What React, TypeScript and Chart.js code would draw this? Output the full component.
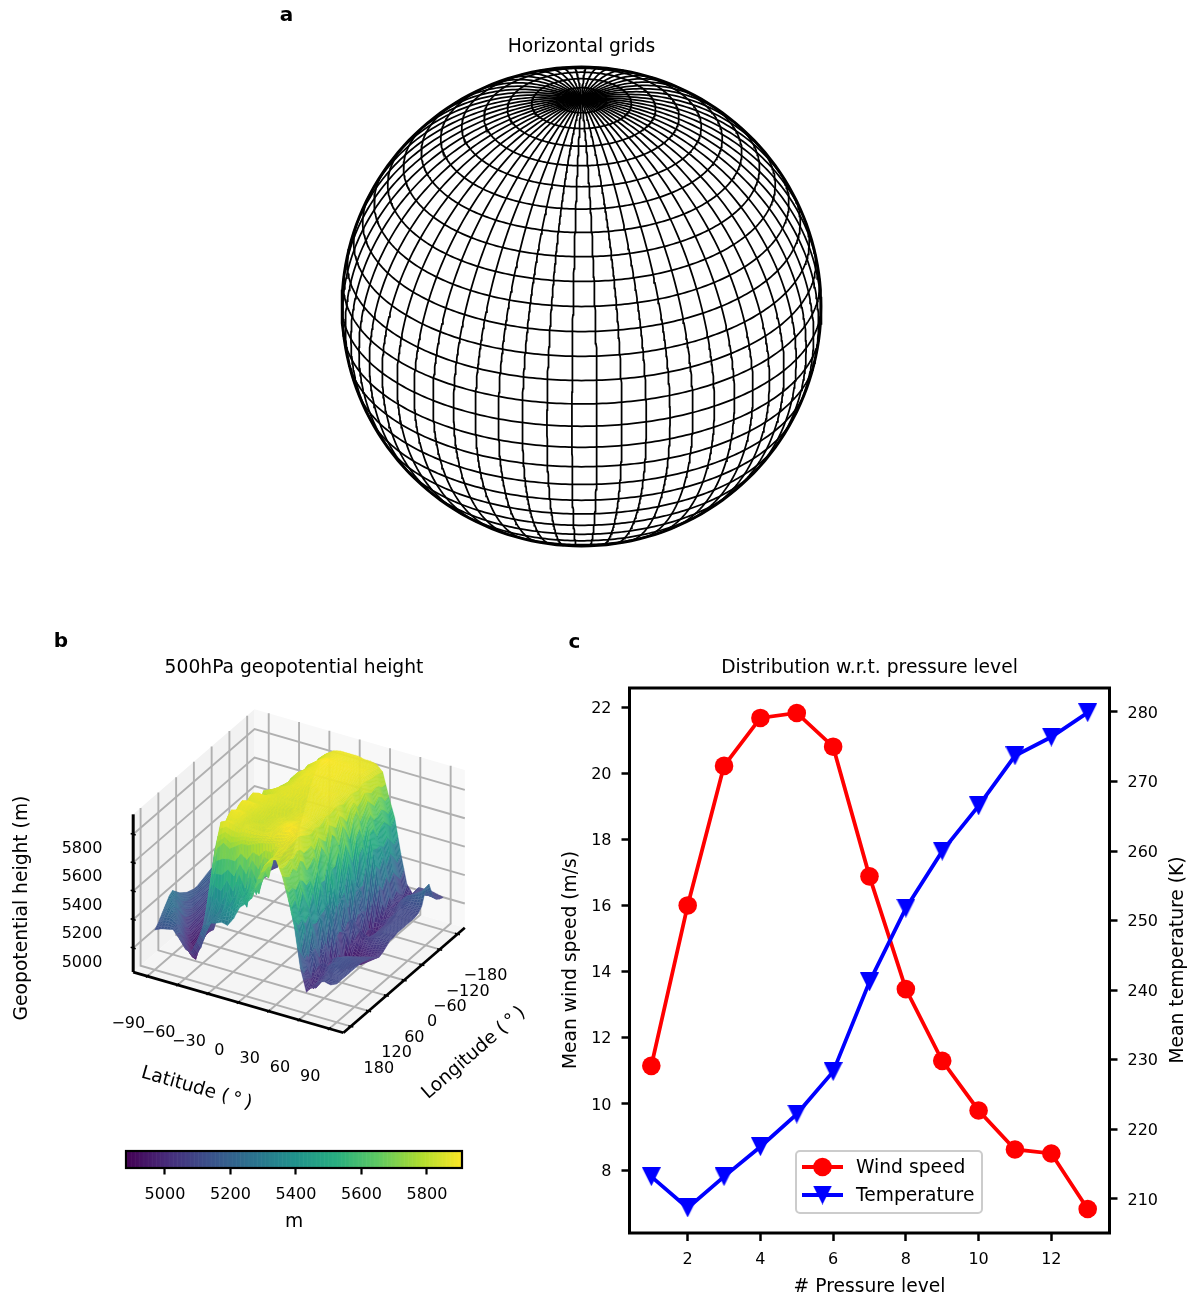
import React, { useEffect, useRef } from "react";
import { Chart, registerables } from "chart.js";

Chart.register(...registerables);

// ---------- panel c ----------
const pressureLevels = [1, 2, 3, 4, 5, 6, 7, 8, 9, 10, 11, 12, 13];
const windSpeed = [11.15, 16.0, 20.22, 21.67, 21.82, 20.8, 16.88, 13.47, 11.3, 9.8, 8.62, 8.5, 6.82];
const temperature = [213.2, 208.7, 213.2, 217.5, 222.2, 228.3, 241.2, 251.8, 260.0, 266.5, 273.7, 276.4, 279.9];
const levelTicks = [2, 4, 6, 8, 10, 12];
const windTicks = [8, 10, 12, 14, 16, 18, 20, 22];
const tempTicks = [210, 220, 230, 240, 250, 260, 270, 280];

// ---------- panel a ----------
const gridLats = [-84, -78, -72, -66, -60, -54, -48, -42, -36, -30, -24, -18, -12, -6, 0, 6, 12, 18, 24, 30, 36, 42, 48, 54, 60, 66, 72, 78, 84];
const gridLons = [-180, -174, -168, -162, -156, -150, -144, -138, -132, -126, -120, -114, -108, -102, -96, -90, -84, -78, -72, -66, -60, -54, -48, -42, -36, -30, -24, -18, -12, -6, 0, 6, 12, 18, 24, 30, 36, 42, 48, 54, 60, 66, 72, 78, 84, 90, 96, 102, 108, 114, 120, 126, 132, 138, 144, 150, 156, 162, 168, 174];

// ---------- panel b ----------
const latTicks = [-90, -60, -30, 0, 30, 60, 90];
const lonTicks = [-180, -120, -60, 0, 60, 120, 180];
const heightTicks = [5000, 5200, 5400, 5600, 5800];
const surfaceLats = [-90, -84, -78, -72, -66, -60, -54, -48, -42, -36, -30, -24, -18, -12, -6, 0, 6, 12, 18, 24, 30, 36, 42, 48, 54, 60, 66, 72, 78, 84, 90];
const surfaceLons = [180, 168, 156, 144, 132, 120, 108, 96, 84, 72, 60, 48, 36, 24, 12, 0, -12, -24, -36, -48, -60, -72, -84, -96, -108, -120, -132, -144, -156, -168, -180];
// geopotential height in decametres; one row per latitude, one column per longitude
const heightDam = [
  [511, 514, 518, 522, 526, 528, 525, 522, 520, 518, 517, 516, 516, 517, 518, 519, 520, 520, 519, 518, 517, 517, 518, 519, 520, 520, 521, 521, 520, 519, 518],
  [513, 519, 524, 527, 526, 522, 516, 512, 510, 509, 510, 511, 512, 513, 514, 515, 515, 515, 514, 513, 513, 513, 514, 515, 515, 516, 516, 515, 514, 514, 513],
  [514, 520, 522, 519, 512, 505, 502, 503, 504, 505, 506, 507, 508, 509, 510, 510, 510, 510, 510, 509, 509, 509, 510, 510, 511, 511, 511, 510, 510, 509, 509],
  [515, 517, 514, 506, 499, 495, 496, 498, 499, 501, 502, 503, 504, 505, 505, 505, 505, 505, 505, 504, 504, 504, 505, 505, 506, 506, 506, 505, 505, 504, 504],
  [510, 506, 500, 495, 491, 490, 492, 495, 497, 498, 500, 501, 502, 502, 502, 501, 501, 501, 501, 500, 500, 500, 501, 502, 502, 503, 502, 502, 501, 500, 500],
  [504, 500, 494, 490, 497, 505, 508, 503, 500, 506, 510, 504, 506, 512, 508, 505, 511, 514, 508, 505, 510, 512, 507, 505, 510, 508, 505, 509, 506, 504, 504],
  [503, 497, 500, 506, 520, 530, 525, 515, 528, 535, 522, 531, 540, 528, 530, 538, 532, 528, 536, 530, 526, 534, 528, 524, 530, 526, 522, 528, 524, 522, 521],
  [512, 505, 514, 522, 548, 565, 560, 568, 572, 562, 570, 575, 566, 568, 574, 565, 552, 568, 560, 550, 562, 556, 545, 556, 548, 540, 552, 546, 540, 540, 538],
  [524, 518, 530, 536, 570, 586, 582, 586, 588, 584, 587, 588, 584, 586, 587, 578, 572, 582, 578, 568, 575, 570, 565, 572, 568, 560, 566, 560, 556, 558, 556],
  [527, 528, 540, 532, 575, 588, 586, 588, 589, 587, 588, 589, 586, 587, 588, 583, 578, 584, 582, 578, 580, 578, 576, 579, 577, 572, 576, 572, 570, 572, 570],
  [528, 532, 526, 545, 572, 587, 586, 587, 588, 586, 587, 588, 586, 587, 587, 586, 584, 585, 585, 583, 583, 583, 582, 584, 583, 581, 583, 581, 579, 581, 579],
  [530, 536, 548, 535, 575, 585, 585, 585, 585, 585, 585, 586, 586, 586, 586, 586, 586, 586, 586, 585, 585, 585, 585, 586, 586, 585, 586, 585, 584, 585, 584],
  [529, 540, 535, 552, 578, 586, 586, 585, 584, 584, 585, 585, 585, 586, 586, 586, 587, 587, 587, 587, 587, 588, 588, 588, 588, 588, 589, 588, 587, 587, 587],
  [535, 545, 555, 540, 578, 586, 585, 585, 584, 584, 584, 585, 585, 585, 586, 586, 587, 587, 587, 588, 588, 588, 589, 589, 589, 590, 591, 589, 588, 588, 588],
  [544, 548, 540, 560, 580, 586, 585, 585, 585, 585, 585, 585, 585, 585, 586, 586, 586, 587, 587, 587, 588, 588, 589, 589, 589, 589, 590, 589, 589, 588, 588],
  [548, 553, 562, 548, 582, 586, 585, 586, 586, 586, 586, 585, 585, 585, 586, 586, 586, 587, 587, 587, 588, 588, 588, 589, 589, 589, 589, 589, 588, 588, 588],
  [553, 558, 552, 566, 583, 587, 587, 587, 587, 587, 586, 586, 586, 586, 586, 586, 587, 587, 587, 588, 588, 588, 588, 589, 589, 589, 589, 589, 588, 588, 588],
  [568, 566, 570, 562, 584, 587, 588, 589, 589, 588, 587, 587, 587, 586, 587, 587, 587, 587, 588, 588, 588, 588, 588, 588, 588, 588, 589, 588, 588, 587, 587],
  [578, 578, 576, 580, 586, 588, 590, 591, 590, 589, 588, 588, 587, 587, 587, 587, 587, 587, 588, 588, 587, 587, 587, 588, 588, 588, 588, 588, 587, 587, 587],
  [584, 583, 585, 586, 587, 589, 591, 591, 589, 588, 587, 587, 586, 586, 586, 586, 587, 587, 587, 587, 587, 587, 587, 587, 587, 587, 588, 588, 587, 587, 586],
  [585, 583, 585, 586, 586, 587, 588, 587, 585, 583, 582, 584, 582, 583, 586, 584, 585, 586, 585, 583, 585, 586, 585, 584, 586, 586, 585, 584, 584, 583, 582],
  [575, 572, 570, 574, 570, 575, 572, 564, 566, 570, 560, 572, 566, 558, 574, 570, 562, 574, 568, 560, 572, 576, 566, 570, 576, 572, 568, 572, 570, 565, 566],
  [560, 552, 556, 545, 558, 548, 540, 552, 534, 552, 538, 525, 556, 545, 530, 552, 535, 550, 538, 528, 548, 552, 540, 556, 558, 550, 554, 556, 552, 548, 552],
  [542, 535, 520, 535, 512, 530, 520, 505, 528, 512, 532, 518, 535, 510, 530, 515, 505, 530, 515, 525, 505, 528, 510, 535, 530, 538, 528, 535, 530, 524, 528],
  [514, 508, 510, 500, 516, 505, 498, 512, 502, 495, 515, 505, 492, 510, 500, 515, 508, 498, 512, 500, 490, 505, 498, 510, 502, 510, 505, 510, 505, 502, 508],
  [498, 502, 496, 505, 498, 508, 500, 493, 505, 496, 490, 492, 488, 497, 503, 495, 505, 499, 493, 501, 497, 503, 496, 501, 505, 500, 505, 498, 505, 500, 502],
  [503, 500, 505, 502, 508, 505, 510, 506, 503, 500, 496, 494, 492, 495, 500, 505, 503, 500, 500, 498, 502, 505, 500, 505, 508, 510, 508, 505, 507, 508, 508],
  [508, 506, 508, 510, 512, 511, 512, 510, 508, 505, 501, 497, 494, 498, 503, 506, 507, 507, 507, 507, 508, 509, 509, 510, 512, 514, 512, 510, 509, 509, 508],
  [509, 510, 510, 511, 512, 512, 512, 511, 509, 507, 504, 500, 497, 500, 505, 508, 509, 509, 509, 509, 509, 509, 510, 510, 512, 516, 515, 512, 510, 509, 508],
  [508, 510, 510, 511, 511, 511, 511, 510, 509, 508, 506, 503, 500, 502, 506, 508, 509, 509, 509, 509, 509, 509, 509, 510, 512, 518, 518, 513, 510, 508, 507],
  [510, 510, 510, 510, 510, 510, 510, 510, 509, 508, 507, 505, 503, 504, 506, 508, 508, 509, 509, 509, 509, 509, 509, 510, 513, 522, 524, 514, 509, 507, 506],
];
const viridisStops = ["#440154", "#472d7b", "#3b528b", "#2c728e", "#21918c", "#28ae80", "#5ec962", "#addc30", "#fde725"];
const colorRange = [4881, 5907];

// ---------- shared style ----------
const FONT = "'DejaVu Sans', sans-serif";
const TICK_SIZE = 16;
const LABEL_SIZE = 18.7;
const INK = "#000000";

function viridis(v: number) {
  const t = Math.max(0, Math.min(1, (v - colorRange[0]) / (colorRange[1] - colorRange[0]))) * (viridisStops.length - 1);
  const i = Math.min(viridisStops.length - 2, Math.floor(t));
  const f = t - i;
  const c = (s: string, k: number) => parseInt(s.slice(k, k + 2), 16);
  const mix = (k: number) => Math.round(c(viridisStops[i], k) * (1 - f) + c(viridisStops[i + 1], k) * f);
  return [mix(1), mix(3), mix(5)];
}

function label(ctx: CanvasRenderingContext2D, text: string, x: number, y: number, size: number, rot = 0, bold = false, align: CanvasTextAlign = "center") {
  ctx.save();
  ctx.translate(x, y);
  ctx.rotate((rot * Math.PI) / 180);
  ctx.font = `${bold ? "bold " : ""}${size}px ${FONT}`;
  ctx.fillStyle = INK;
  ctx.textAlign = align;
  ctx.textBaseline = "middle";
  ctx.fillText(text, 0, 1.5);
  ctx.restore();
}

function fixedTicks(values: number[]) {
  return (scale: any) => {
    scale.ticks = values.map((value) => ({ value }));
  };
}
const plainTick = (v: any) => `${v}`;

// ---------- globe projection (orthographic) ----------
const VIEW_LAT = (30 * Math.PI) / 180;
const VIEW_LON = 2.3;
function globePoint(lat: number, lon: number) {
  const p = (lat * Math.PI) / 180;
  const l = ((lon - VIEW_LON) * Math.PI) / 180;
  const depth = Math.sin(VIEW_LAT) * Math.sin(p) + Math.cos(VIEW_LAT) * Math.cos(p) * Math.cos(l);
  return {
    x: Math.cos(p) * Math.sin(l),
    y: Math.cos(VIEW_LAT) * Math.sin(p) - Math.sin(VIEW_LAT) * Math.cos(p) * Math.cos(l),
    depth,
  };
}
function globeDatasets() {
  const sets: any[] = [];
  const line = (data: any[], w: number) => ({
    data,
    showLine: true,
    pointRadius: 0,
    borderColor: INK,
    borderWidth: w,
    clip: false,
    tension: 0,
  });
  for (const lat of gridLats) {
    const pts: any[] = [];
    for (let d = 0; d <= 360; d += 1) {
      const g = globePoint(lat, VIEW_LON + 180 + d);
      if (g.depth >= 0) pts.push({ x: g.x, y: g.y });
    }
    if (pts.length) sets.push(line(pts, 1.75));
  }
  for (const lon of gridLons) {
    const pts: any[] = [];
    for (let lat = -90; lat <= 90; lat += 1) {
      const g = globePoint(lat, lon);
      if (g.depth >= 0) pts.push({ x: g.x, y: g.y });
    }
    if (pts.length) sets.push(line(pts, 1.75));
  }
  const rim: any[] = [];
  for (let d = 0; d <= 360; d += 2) {
    rim.push({ x: Math.cos((d * Math.PI) / 180), y: Math.sin((d * Math.PI) / 180) });
  }
  sets.push(line(rim, 2.9));
  return sets;
}

// ---------- 3D projection of panel b (elev 30, azim -60, orthographic) ----------
const LAT_LIM = 104;
const LON_LIM = 205;
const Z_LIM = [4830, 5940];
const BOX = [1.19, 1.19, 0.893];
const SCREEN = { scale: 204, ox: 299, oy: 871 };
const PANEL_B = { top: 630, height: 500, width: 588, areaTop: 697 };

function cube(a: number, b: number, w: number) {
  const dx = (a - 0.5) * BOX[0];
  const dy = (b - 0.5) * BOX[1];
  const dz = (w - 0.5) * BOX[2];
  return {
    x: 0.866 * dx + 0.5 * dy,
    y: -0.25 * dx + 0.433 * dy + 0.866 * dz,
    depth: 0.433 * dx - 0.75 * dy + 0.5 * dz,
  };
}
const latA = (lat: number) => (lat + LAT_LIM) / (2 * LAT_LIM);
const lonB = (lon: number) => (LON_LIM - lon) / (2 * LON_LIM);
const zW = (z: number) => (z - Z_LIM[0]) / (Z_LIM[1] - Z_LIM[0]);
const world = (lat: number, lon: number, z: number) => cube(latA(lat), lonB(lon), zW(z));

function axisDatasets() {
  const seg = (pts: any[], color: string, w: number) => ({
    data: pts.map((p) => ({ x: p.x, y: p.y })),
    showLine: true,
    pointRadius: 0,
    borderColor: color,
    borderWidth: w,
    clip: false,
    tension: 0,
  });
  const sets: any[] = [];
  const BLACK = 2.7;
  sets.push(seg([cube(0, 0, 0), cube(0, 0, 1)], INK, 3));
  sets.push(seg([cube(0, 0, 0), cube(1, 0, 0)], INK, BLACK));
  sets.push(seg([cube(1, 0, 0), cube(1, 1, 0)], INK, BLACK));
  for (const lat of latTicks) {
    const a = latA(lat);
    sets.push(seg([cube(a, -0.012, 0), cube(a, 0.012, 0)], INK, 1.6));
  }
  for (const lon of lonTicks) {
    const b = lonB(lon);
    sets.push(seg([cube(0.988, b, 0), cube(1.012, b, 0)], INK, 1.6));
  }
  for (const z of heightTicks) {
    const w = zW(z);
    sets.push(seg([cube(-0.012, 0, w), cube(0.012, 0, w)], INK, 1.6));
  }
  const GRID = "#b0b0b0";
  for (const lat of latTicks) {
    const a = latA(lat);
    sets.push(seg([cube(a, 0, 0), cube(a, 1, 0), cube(a, 1, 1)], GRID, 1.9));
  }
  for (const lon of lonTicks) {
    const b = lonB(lon);
    sets.push(seg([cube(1, b, 0), cube(0, b, 0), cube(0, b, 1)], GRID, 1.9));
  }
  for (const z of heightTicks) {
    const w = zW(z);
    sets.push(seg([cube(0, 0, w), cube(0, 1, w), cube(1, 1, w)], GRID, 1.9));
  }
  const nodes: any[] = [];
  surfaceLats.forEach((lat, i) =>
    surfaceLons.forEach((lon, j) => {
      const p = world(lat, lon, heightDam[i][j] * 10);
      nodes.push({ x: p.x, y: p.y });
    })
  );
  sets.push({ label: "surface", data: nodes, showLine: false, pointRadius: 0, clip: false });
  return sets;
}

const SUB_LAT = 2;
const SUB_LON = 4;
function drawSurface(chart: any) {
  const ctx: CanvasRenderingContext2D = chart.ctx;
  const sx = chart.scales.x;
  const sy = chart.scales.y;
  const quads: any[] = [];
  const zAt = (i: number, j: number, u: number, v: number) =>
    10 *
    (heightDam[i][j] * (1 - u) * (1 - v) +
      heightDam[i + 1][j] * u * (1 - v) +
      heightDam[i][j + 1] * (1 - u) * v +
      heightDam[i + 1][j + 1] * u * v);
  const pos = (i: number, j: number, u: number, v: number) => {
    const lat = surfaceLats[i] + (surfaceLats[i + 1] - surfaceLats[i]) * u;
    const lon = surfaceLons[j] + (surfaceLons[j + 1] - surfaceLons[j]) * v;
    return world(lat, lon, zAt(i, j, u, v));
  };
  for (let i = 0; i < surfaceLats.length - 1; i++) {
    for (let j = 0; j < surfaceLons.length - 1; j++) {
      for (let m = 0; m < SUB_LAT; m++) {
        for (let n = 0; n < SUB_LON; n++) {
          const u0 = m / SUB_LAT;
          const u1 = (m + 1) / SUB_LAT;
          const v0 = n / SUB_LON;
          const v1 = (n + 1) / SUB_LON;
          const corners = [pos(i, j, u0, v0), pos(i, j, u1, v0), pos(i, j, u1, v1), pos(i, j, u0, v1)];
          const zMean = zAt(i, j, (u0 + u1) / 2, (v0 + v1) / 2);
          const depth = (corners[0].depth + corners[1].depth + corners[2].depth + corners[3].depth) / 4;
          quads.push({ corners, zMean, depth });
        }
      }
    }
  }
  quads.sort((p, q) => p.depth - q.depth);
  ctx.save();
  ctx.lineJoin = "round";
  for (const q of quads) {
    const [r, g, b] = viridis(q.zMean);
    ctx.beginPath();
    q.corners.forEach((c: any, k: number) => {
      const x = sx.getPixelForValue(c.x);
      const y = sy.getPixelForValue(c.y);
      if (k === 0) ctx.moveTo(x, y);
      else ctx.lineTo(x, y);
    });
    ctx.closePath();
    ctx.fillStyle = `rgb(${r},${g},${b})`;
    ctx.fill();
    const t = (q.zMean - colorRange[0]) / (colorRange[1] - colorRange[0]);
    const L = 0.02 + 0.14 * Math.max(0, 1 - t);
    ctx.strokeStyle = `rgb(${Math.round(r + (255 - r) * L)},${Math.round(g + (255 - g) * L)},${Math.round(b + (255 - b) * L)})`;
    ctx.lineWidth = 0.45;
    ctx.stroke();
  }
  ctx.restore();
}

function downTriangle(size: number, color: string) {
  const c = document.createElement("canvas");
  c.width = size;
  c.height = size;
  const g = c.getContext("2d")!;
  g.fillStyle = color;
  g.beginPath();
  g.moveTo(0, 0);
  g.lineTo(size, 0);
  g.lineTo(size / 2, size);
  g.closePath();
  g.fill();
  return c;
}

const baseOptions = {
  responsive: false,
  animation: false as const,
  devicePixelRatio: 1,
  events: [] as any[],
};

export default function App() {
  const aRef = useRef<HTMLCanvasElement>(null);
  const bRef = useRef<HTMLCanvasElement>(null);
  const barRef = useRef<HTMLCanvasElement>(null);
  const cRef = useRef<HTMLCanvasElement>(null);

  useEffect(() => {
    const charts: Chart[] = [];

    // ---- a: globe ----
    charts.push(
      new Chart(aRef.current!, {
        type: "scatter",
        data: { datasets: globeDatasets() },
        options: {
          ...baseOptions,
          layout: { padding: { left: 342, right: 372, top: 0, bottom: 54 } },
          scales: {
            x: { type: "linear", display: false, min: -1, max: 1 },
            y: { type: "linear", display: false, min: -1, max: 1 },
          },
          plugins: {
            legend: { display: false },
            tooltip: { enabled: false },
            title: {
              display: true,
              fullSize: false,
              text: "Horizontal grids",
              color: INK,
              font: { family: FONT, size: LABEL_SIZE, weight: "normal" },
              padding: { top: 35.5, bottom: 9.06 },
            },
          },
        } as any,
        plugins: [
          {
            id: "letterA",
            afterDraw(chart: any) {
              label(chart.ctx, "a", 286.5, 14, 20, 0, true);
            },
          },
        ],
      } as any)
    );

    // ---- b: 3D surface ----
    const areaBottom = PANEL_B.top + PANEL_B.height;
    charts.push(
      new Chart(bRef.current!, {
        type: "scatter",
        data: { datasets: axisDatasets() },
        options: {
          ...baseOptions,
          layout: { padding: 0 },
          scales: {
            x: { type: "linear", display: false, min: (0 - SCREEN.ox) / SCREEN.scale, max: (PANEL_B.width - SCREEN.ox) / SCREEN.scale },
            y: { type: "linear", display: false, min: (SCREEN.oy - areaBottom) / SCREEN.scale, max: (SCREEN.oy - PANEL_B.areaTop) / SCREEN.scale },
          },
          plugins: {
            legend: { display: false },
            tooltip: { enabled: false },
            title: {
              display: true,
              fullSize: false,
              text: "500hPa geopotential height",
              color: INK,
              font: { family: FONT, size: LABEL_SIZE, weight: "normal" },
              padding: { top: 26.5, bottom: 18.06 },
            },
          },
        } as any,
        plugins: [
          {
            id: "panes",
            beforeDatasetsDraw(chart: any) {
              const { ctx, scales } = chart;
              const poly = (pts: any[], color: string) => {
                ctx.beginPath();
                pts.forEach((p, k) => {
                  const x = scales.x.getPixelForValue(p.x);
                  const y = scales.y.getPixelForValue(p.y);
                  if (k === 0) ctx.moveTo(x, y);
                  else ctx.lineTo(x, y);
                });
                ctx.closePath();
                ctx.fillStyle = color;
                ctx.fill();
              };
              poly([cube(0, 0, 0), cube(0, 1, 0), cube(0, 1, 1), cube(0, 0, 1)], "#f2f2f2");
              poly([cube(0, 1, 0), cube(1, 1, 0), cube(1, 1, 1), cube(0, 1, 1)], "#f8f8f8");
              poly([cube(0, 0, 0), cube(1, 0, 0), cube(1, 1, 0), cube(0, 1, 0)], "#f5f5f5");
            },
          },
          {
            id: "surface",
            afterDatasetsDraw(chart: any) {
              drawSurface(chart);
            },
          },
          {
            id: "axisText",
            afterDraw(chart: any) {
              const { ctx, scales } = chart;
              const px = (p: any) => ({ x: scales.x.getPixelForValue(p.x), y: scales.y.getPixelForValue(p.y) });
              const text = (s: string, x: number, y: number, size: number, rot = 0, bold = false) =>
                label(ctx, s, x, y - PANEL_B.top, size, rot, bold);
              const sign = (v: number) => (v < 0 ? `\u2212${Math.abs(v)}` : `${v}`);
              for (const lat of latTicks) {
                const p = px(cube(latA(lat), 0, 0));
                label(ctx, sign(lat), p.x - 19, p.y + 46.5, TICK_SIZE);
              }
              for (const lon of lonTicks) {
                const p = px(cube(1, lonB(lon), 0));
                label(ctx, sign(lon), p.x + 28, p.y + 40.5, TICK_SIZE);
              }
              for (const z of heightTicks) {
                const p = px(cube(0, 0, zW(z)));
                label(ctx, `${z}`, 82, p.y + 13, TICK_SIZE);
              }
              text("Geopotential height (m)", 21, 908, LABEL_SIZE, -90);
              text("Latitude (\u2009\u00b0\u2009)", 197, 1087, LABEL_SIZE, 16);
              text("Longitude (\u2009\u00b0\u2009)", 473, 1052, LABEL_SIZE, -41);
              text("b", 61, 640, 20, 0, true);
            },
          },
        ],
      } as any)
    );

    // ---- b: colour bar ----
    charts.push(
      new Chart(barRef.current!, {
        type: "scatter",
        data: { datasets: [{ data: [] }] },
        options: {
          ...baseOptions,
          layout: { padding: { left: 126, right: 126, top: 16, bottom: 0 } },
          scales: {
            x: {
              type: "linear",
              min: colorRange[0],
              max: colorRange[1],
              afterBuildTicks: fixedTicks(heightTicks),
              afterFit(scale: any) {
                scale.height = 77;
              },
              grid: { drawOnChartArea: false, drawTicks: true, tickLength: 6.5, tickWidth: 2.2, tickColor: INK },
              border: { display: false },
              ticks: { color: INK, font: { family: FONT, size: TICK_SIZE }, padding: 11, maxRotation: 0, autoSkip: false, callback: plainTick },
              title: { display: true, text: "m", color: INK, font: { family: FONT, size: LABEL_SIZE }, padding: { top: 0, bottom: 11.8 } },
            },
            y: { type: "linear", display: false, min: 0, max: 1 },
          },
          plugins: { legend: { display: false }, tooltip: { enabled: false } },
        } as any,
        plugins: [
          {
            id: "colourRamp",
            beforeDatasetsDraw(chart: any) {
              const { ctx, chartArea: A, scales } = chart;
              const N = 256;
              for (let k = 0; k < N; k++) {
                const v0 = colorRange[0] + ((colorRange[1] - colorRange[0]) * k) / N;
                const v1 = colorRange[0] + ((colorRange[1] - colorRange[0]) * (k + 1)) / N;
                const [r, g, b] = viridis((v0 + v1) / 2);
                const x0 = scales.x.getPixelForValue(v0);
                const x1 = scales.x.getPixelForValue(v1);
                ctx.fillStyle = `rgb(${r},${g},${b})`;
                ctx.fillRect(x0, A.top, x1 - x0 + 0.6, A.bottom - A.top);
              }
              ctx.strokeStyle = INK;
              ctx.lineWidth = 2.2;
              ctx.strokeRect(A.left, A.top, A.right - A.left, A.bottom - A.top);
            },
          },
        ],
      } as any)
    );

    // ---- c: line chart ----
    const redLine = "#ff0000";
    const blueLine = "#0000ff";
    const tri = downTriangle(19, blueLine);
    const yAxis = (ticks: number[], min: number, max: number, width: number, pos: string) => ({
      type: "linear",
      position: pos,
      min,
      max,
      afterBuildTicks: fixedTicks(ticks),
      afterFit(scale: any) {
        scale.width = width;
      },
      grid: { drawOnChartArea: false, drawTicks: true, tickLength: 8, tickWidth: 2.5, tickColor: INK },
      border: { display: false },
      ticks: { color: INK, font: { family: FONT, size: TICK_SIZE }, padding: 10, autoSkip: false, maxRotation: 0, labelOffset: 1.5, callback: plainTick },
    });
    charts.push(
      new Chart(cRef.current!, {
        type: "line",
        data: {
          labels: pressureLevels,
          datasets: [
            {
              label: "Wind speed",
              data: pressureLevels.map((x, i) => ({ x, y: windSpeed[i] })),
              yAxisID: "y",
              borderColor: redLine,
              backgroundColor: redLine,
              borderWidth: 3.8,
              pointRadius: 9.3,
              pointBorderWidth: 0,
              tension: 0,
              clip: false,
              order: 2,
            },
            {
              label: "Temperature",
              data: pressureLevels.map((x, i) => ({ x, y: temperature[i] })),
              yAxisID: "y1",
              borderColor: blueLine,
              backgroundColor: blueLine,
              borderWidth: 3.8,
              pointStyle: tri,
              pointRadius: 9.5,
              pointBorderWidth: 0,
              tension: 0,
              clip: false,
              order: 1,
            },
          ],
        },
        options: {
          ...baseOptions,
          layout: { padding: 0 },
          scales: {
            x: {
              type: "linear",
              min: 0.4,
              max: 13.6,
              afterBuildTicks: fixedTicks(levelTicks),
              afterFit(scale: any) {
                scale.height = 66;
              },
              grid: { drawOnChartArea: false, drawTicks: true, tickLength: 8, tickWidth: 2.5, tickColor: INK },
              border: { display: false },
              ticks: { color: INK, font: { family: FONT, size: TICK_SIZE }, padding: 9, autoSkip: false, maxRotation: 0, callback: plainTick },
              title: { display: true, text: "# Pressure level", color: INK, font: { family: FONT, size: LABEL_SIZE }, padding: { top: 0, bottom: 0.6 } },
            },
            y: yAxis(windTicks, 6.095, 22.575, 74.5, "left"),
            y1: yAxis(tempTicks, 205.1, 283.45, 83.5, "right"),
          },
          plugins: {
            legend: { display: false },
            tooltip: { enabled: false },
            title: {
              display: true,
              fullSize: false,
              text: "Distribution w.r.t. pressure level",
              color: INK,
              font: { family: FONT, size: LABEL_SIZE, weight: "normal" },
              padding: { top: 26.5, bottom: 9.06 },
            },
          },
        } as any,
        plugins: [
          {
            id: "frameAndLegend",
            afterDatasetsDraw(chart: any) {
              const { ctx, chartArea: A } = chart;
              ctx.save();
              ctx.strokeStyle = INK;
              ctx.lineWidth = 3;
              ctx.strokeRect(A.left, A.top, A.right - A.left, A.bottom - A.top);
              const ox = 555;
              const oy = 630;
              ctx.beginPath();
              ctx.roundRect(796 - ox, 1151 - oy, 186, 62, 4);
              ctx.fillStyle = "rgba(255,255,255,0.8)";
              ctx.fill();
              ctx.strokeStyle = "#cccccc";
              ctx.lineWidth = 2;
              ctx.stroke();
              const row = (yy: number, color: string) => {
                ctx.beginPath();
                ctx.moveTo(802 - ox, yy - oy);
                ctx.lineTo(843 - ox, yy - oy);
                ctx.strokeStyle = color;
                ctx.lineWidth = 3.8;
                ctx.stroke();
              };
              row(1167, redLine);
              ctx.beginPath();
              ctx.arc(822.5 - ox, 1167 - oy, 9.3, 0, Math.PI * 2);
              ctx.fillStyle = redLine;
              ctx.fill();
              row(1195, blueLine);
              ctx.drawImage(tri, 822.5 - ox - 9.5, 1195 - oy - 9.5);
              label(ctx, "Wind speed", 856 - ox, 1167 - oy, LABEL_SIZE, 0, false, "left");
              label(ctx, "Temperature", 856 - ox, 1194.5 - oy, LABEL_SIZE, 0, false, "left");
              ctx.restore();
              label(ctx, "Mean wind speed (m/s)", 570 - ox, 960 - oy, LABEL_SIZE, -90);
              label(ctx, "Mean temperature (K)", 1177 - ox, 960 - oy, LABEL_SIZE, -90);
              label(ctx, "c", 574.5 - ox, 641 - oy, 20, 0, true);
            },
          },
        ],
      } as any)
    );

    return () => charts.forEach((c) => c.destroy());
  }, []);

  const abs = (left: number, top: number): React.CSSProperties => ({ position: "absolute", left, top, display: "block" });
  return (
    <div style={{ position: "absolute", left: 0, top: 0, width: 1193, height: 1299, overflow: "hidden", background: "#ffffff" }}>
      <canvas ref={aRef} width={1193} height={600} style={abs(0, 0)} />
      <canvas ref={bRef} width={PANEL_B.width} height={PANEL_B.height} style={abs(0, PANEL_B.top)} />
      <canvas ref={barRef} width={588} height={110} style={abs(0, 1135)} />
      <canvas ref={cRef} width={638} height={669} style={abs(555, 630)} />
    </div>
  );
}
